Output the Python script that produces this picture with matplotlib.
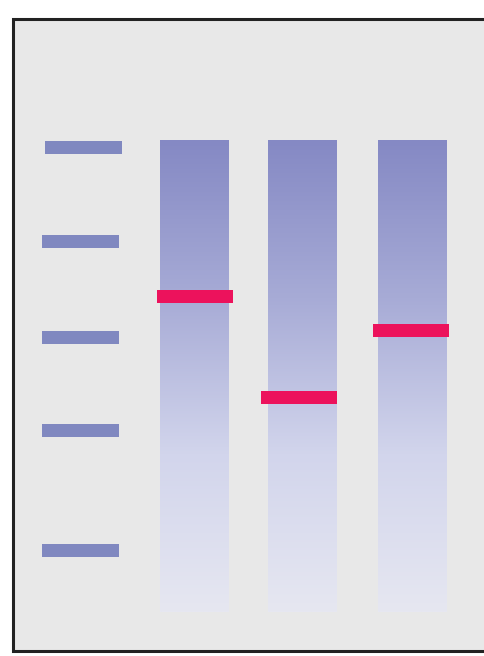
import numpy as np
import matplotlib
matplotlib.use("Agg")
import matplotlib.pyplot as plt
from matplotlib.patches import Rectangle
from matplotlib.colors import LinearSegmentedColormap

# migration distance (px from top of image) of each band
ladder_bands = [147, 241, 337, 430, 550]
lanes = ["Sample 1", "Sample 2", "Sample 3"]
lane_left = [160, 268, 378]
sample_bands = [296, 397, 330]
band_shift = [-3, -7, -5]  # bands sit slightly left of their lane

LANE_W = 69
WELL_TOP = 140
GEL_END = 612
BAND_H = 13
gel_bg = "#e8e8e8"
ladder_color = "#8088c0"
band_color = "#ec125c"

fig = plt.figure(figsize=(4.84, 6.56), dpi=100)
ax = fig.add_axes([0, 0, 1, 1])
ax.set_xlim(0, 484)
ax.set_ylim(656, 0)
ax.axis("off")

# gel frame
ax.add_patch(Rectangle((13, 19), 490, 632, facecolor=gel_bg,
                       edgecolor="#222222", linewidth=2.2))

# lane smear gradient
cmap = LinearSegmentedColormap.from_list(
    "smear", ["#8589c4", "#a7abd6", "#d2d5ec", "#e6e7f1"])
grad = np.linspace(0, 1, 256).reshape(-1, 1)
for x in lane_left:
    ax.imshow(grad, cmap=cmap, aspect="auto",
              extent=(x, x + LANE_W, GEL_END, WELL_TOP), zorder=2)

# ladder
for i, y in enumerate(ladder_bands):
    x0 = 45 if i == 0 else 42
    ax.add_patch(Rectangle((x0, y - BAND_H / 2), 77, BAND_H,
                           facecolor=ladder_color, edgecolor="none", zorder=3))

# sample bands
for x, dx, y in zip(lane_left, band_shift, sample_bands):
    ax.add_patch(Rectangle((x + dx, y - BAND_H / 2), 76, BAND_H,
                           facecolor=band_color, edgecolor="none", zorder=3))

fig.savefig("out.png", dpi=100, facecolor="white")
